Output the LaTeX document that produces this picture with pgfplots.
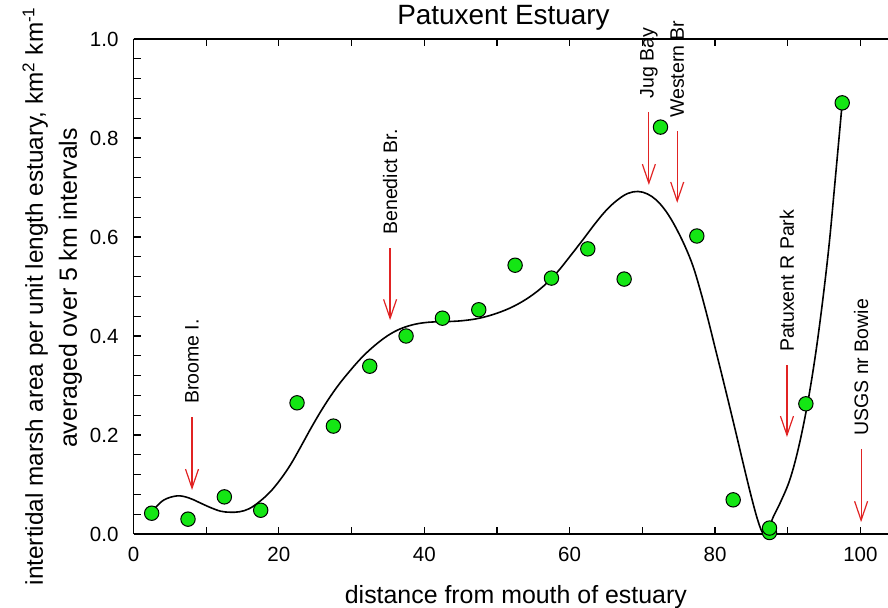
\documentclass[border=0pt]{standalone}
\usepackage{fontspec}
\setmainfont{Liberation Sans}
\usepackage{pgfplots}
\pgfplotsset{compat=1.18}
\usetikzlibrary{arrows.meta}
\definecolor{ptgreen}{RGB}{20,230,20}
\definecolor{arrred}{RGB}{225,35,35}
\begin{document}
\begin{tikzpicture}
\begin{axis}[
  at={(0,0)}, anchor=south west,
  scale only axis,
  width=377.25bp, height=247.5bp,
  xmin=0, xmax=103.8, ymin=0, ymax=1,
  axis x line*=box, axis y line*=left,
  axis line style={line width=0.7bp},
  tick style={line width=0.6bp, black},
  tick align=inside,
  xtick={0,20,40,60,80,100}, minor x tick num=1,
  ytick={0,0.2,0.4,0.6,0.8,1.0}, minor y tick num=4,
  major tick length=3.5bp, minor tick length=3.5bp,
  xtick pos=both, xticklabel pos=lower,
  ytick pos=left,
  /pgf/number format/assume math mode=true,
  yticklabel style={/pgf/number format/fixed, /pgf/number format/fixed zerofill, /pgf/number format/precision=1, xshift=-4bp},
  tick label style={font=\fontsize{10.3}{12}\selectfont},
  xticklabel style={yshift=-3bp},
  clip=false,
]
% fitted curve
\addplot[black, line width=0.8bp, smooth, tension=0.6] coordinates {
(2.5,0.045) (4.1,0.068) (6.0,0.077) (7.6,0.073) (9.0,0.064) (10.5,0.054) (12.0,0.046) (13.3,0.044)
(14.6,0.045) (15.9,0.051) (17.3,0.065) (18.8,0.085) (20.2,0.110) (21.6,0.140) (23.0,0.176)
(24.5,0.216) (26.2,0.258) (28.0,0.297) (29.8,0.330) (31.5,0.358) (33.2,0.381)
(35.0,0.401) (36.8,0.415) (38.8,0.424) (40.8,0.428) (43.0,0.429) (45.3,0.431)
(47.6,0.436) (50.0,0.446) (52.3,0.460) (54.5,0.479) (56.5,0.502) (58.3,0.529)
(60.0,0.560) (61.8,0.594) (63.5,0.627) (65.1,0.655) (66.6,0.675) (68.0,0.688)
(69.4,0.692) (70.7,0.687) (71.9,0.675) (73.0,0.657) (74.0,0.635) (75.0,0.608)
(76.0,0.577) (77.0,0.540) (78.0,0.491) (79.0,0.436) (80.0,0.377) (81.0,0.318)
(82.0,0.258) (83.0,0.197) (84.0,0.135) (85.0,0.075) (85.9,0.027) (86.6,0.002)
(87.3,0.008) (88.0,0.034) (89.0,0.064) (90.3,0.110) (91.5,0.175) (92.7,0.261)
(93.8,0.360) (94.8,0.470) (95.7,0.585) (96.5,0.710) (97.5,0.871)
};
% data points
\addplot[only marks, mark=*, mark size=3.6bp,
  mark options={fill=ptgreen, draw=black, line width=0.5bp}] coordinates {
(2.5,0.042) (7.5,0.030) (12.5,0.075) (17.5,0.048) (22.5,0.265) (27.5,0.218)
(32.5,0.339) (37.5,0.400) (42.5,0.436) (47.5,0.453) (52.5,0.543) (57.5,0.517)
(62.5,0.576) (67.5,0.515) (72.5,0.822) (77.5,0.602) (82.5,0.069) (87.5,0.003)
(87.5,0.012) (92.5,0.263) (97.5,0.871)
};
% location arrows
\addplot[arrred, line width=0.6bp, -{Straight Barb[length=9.5bp,width=6.5bp]}] coordinates {(8.05,0.236) (8.05,0.089)}
  node[pos=0, anchor=west, rotate=90, black, font=\fontsize{9.8}{11}\selectfont, xshift=3bp] {Broome I.};
\addplot[arrred, line width=0.6bp, -{Straight Barb[length=9.5bp,width=6.5bp]}] coordinates {(35.3,0.578) (35.3,0.432)}
  node[pos=0, anchor=west, rotate=90, black, font=\fontsize{9.8}{11}\selectfont, xshift=3bp] {Benedict Br.};
\addplot[arrred, line width=0.6bp, -{Straight Barb[length=9.5bp,width=6.5bp]}] coordinates {(70.9,0.853) (70.9,0.705)}
  node[pos=0, anchor=west, rotate=90, black, font=\fontsize{9.8}{11}\selectfont, xshift=3bp] {Jug Bay};
\addplot[arrred, line width=0.6bp, -{Straight Barb[length=9.5bp,width=6.5bp]}] coordinates {(74.8,0.814) (74.8,0.669)}
  node[pos=0, anchor=west, rotate=90, black, font=\fontsize{9.8}{11}\selectfont, xshift=3bp] {Western Br};
\addplot[arrred, line width=0.6bp, -{Straight Barb[length=9.5bp,width=6.5bp]}] coordinates {(89.9,0.341) (89.9,0.196)}
  node[pos=0, anchor=west, rotate=90, black, font=\fontsize{9.8}{11}\selectfont, xshift=3bp] {Patuxent R Park};
\addplot[arrred, line width=0.6bp, -{Straight Barb[length=9.5bp,width=6.5bp]}] coordinates {(100.1,0.172) (100.1,0.024)}
  node[pos=0, anchor=west, rotate=90, black, font=\fontsize{9.8}{11}\selectfont, xshift=3bp] {USGS nr Bowie};
% title and axis labels
\node[anchor=base, font=\fontsize{14}{16}\selectfont] at ([yshift=7bp]axis cs:50.9,1) {Patuxent Estuary};
\node[anchor=base, font=\fontsize{12.5}{15}\selectfont] at ([yshift=-34.5bp]axis cs:52.6,0) {distance from mouth of estuary};
\node[anchor=base, rotate=90, font=\fontsize{12.2}{15}\selectfont] at ([xshift=-45.25bp]axis cs:0,0.481)
  {intertidal marsh area per unit length estuary, km\textsuperscript{2} km\textsuperscript{-1}};
\node[anchor=base, rotate=90, font=\fontsize{12.5}{15}\selectfont] at ([xshift=-28.25bp]axis cs:0,0.497)
  {averaged over 5 km intervals};
\end{axis}
\pgfresetboundingbox
\useasboundingbox (-66.75bp,-37bp) rectangle (377.25bp,267bp);
\end{tikzpicture}
\end{document}
